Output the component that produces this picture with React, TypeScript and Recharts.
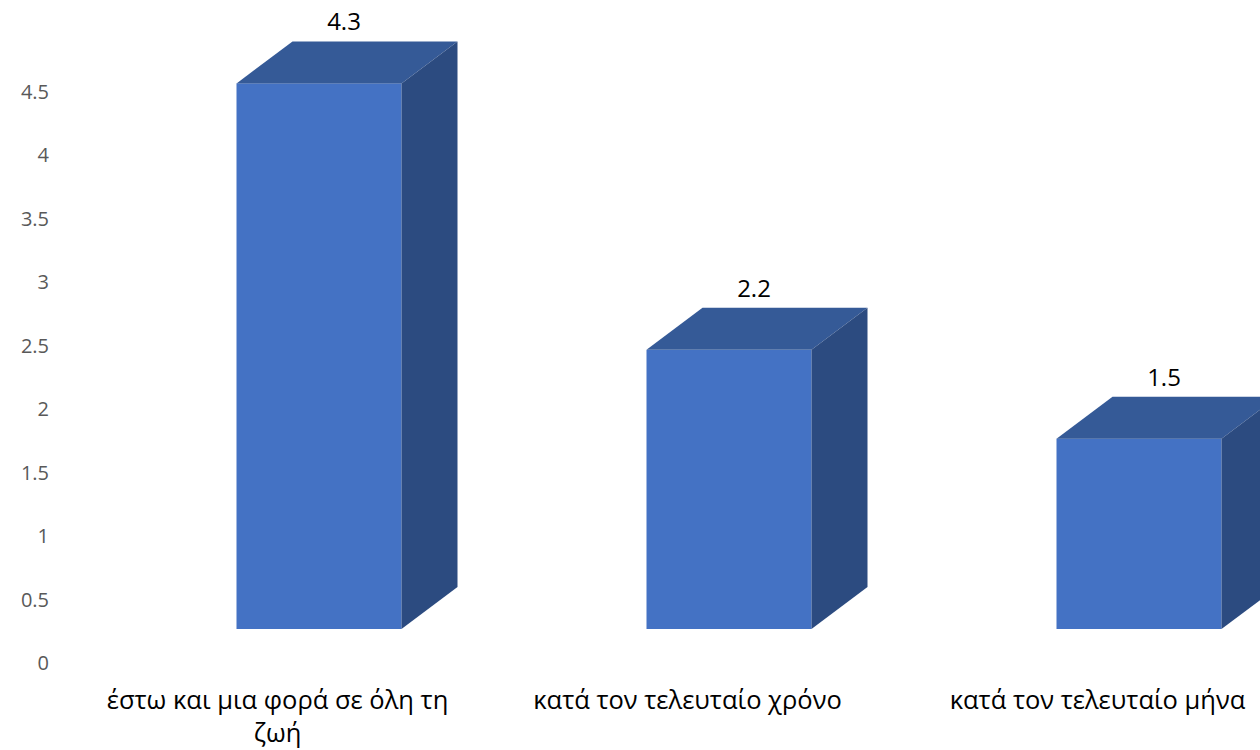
import { BarChart, Bar, XAxis, YAxis, LabelList } from 'recharts';

const categories = ['έστω και μια φορά σε όλη τη ζωή', 'κατά τον τελευταίο χρόνο', 'κατά τον τελευταίο μήνα'];
const values = [4.3, 2.2, 1.5];
const yTicks = [0, 0.5, 1, 1.5, 2, 2.5, 3, 3.5, 4, 4.5];

const data = categories.map((name, i) => ({ name, value: values[i] }));

const FRONT = '#4472C4';
const TOP = '#355A97';
const SIDE = '#2C4B80';
const DX = 56;
const DY = 42;
const LIFT = 34;
const FONT = '"Open Sans", "DejaVu Sans", sans-serif';

function Bar3D(props: any) {
  const { x, y, width, height } = props;
  const top = y - LIFT;
  const bottom = y + height - LIFT;
  return (
    <g>
      <rect x={x} y={top} width={width} height={height} fill={FRONT} />
      <polygon
        points={`${x},${top} ${x + DX},${top - DY} ${x + width + DX},${top - DY} ${x + width},${top}`}
        fill={TOP}
      />
      <polygon
        points={`${x + width},${top} ${x + width + DX},${top - DY} ${x + width + DX},${bottom - DY} ${x + width},${bottom}`}
        fill={SIDE}
      />
    </g>
  );
}

function ValueLabel(props: any) {
  const { x, y, width, value } = props;
  return (
    <text x={x + width / 2 + 25} y={y - LIFT - DY - 11} textAnchor="middle" fontFamily={FONT} fontSize={24} fill="#000">
      {value}
    </text>
  );
}

function wrap(text: string, max: number) {
  const words = text.split(' ');
  const lines: string[] = [];
  let cur = '';
  for (const w of words) {
    const next = cur ? cur + ' ' + w : w;
    if (next.length > max && cur) {
      lines.push(cur);
      cur = w;
    } else cur = next;
  }
  if (cur) lines.push(cur);
  return lines;
}

function CategoryTick({ x, y, payload }: any) {
  const lines = wrap(payload.value, 28);
  return (
    <text x={x - 41} y={y} textAnchor="middle" fontFamily={FONT} fontSize={25.5} fill="#000">
      {lines.map((l, i) => (
        <tspan key={i} x={x - 41} dy={i === 0 ? 46 : 33}>{l}</tspan>
      ))}
    </text>
  );
}

function ValueTick({ x, y, payload }: any) {
  return (
    <text x={x} y={y} dy={7} textAnchor="end" fontFamily={FONT} fontSize={20} fill="#595959">
      {payload.value}
    </text>
  );
}

export default function App() {
  return (
    <div style={{ position: 'fixed', left: 0, top: 0, width: 1260, height: 750, overflow: 'hidden', background: '#fff' }}>
      <BarChart width={1400} height={750} data={data} margin={{ top: 92, right: 56.5, bottom: 0, left: 0 }}>
        <XAxis dataKey="name" axisLine={false} tickLine={false} tickSize={0} tickMargin={0} height={87} tick={<CategoryTick />} interval={0} />
        <YAxis
          domain={[0, 4.5]}
          ticks={yTicks}
          width={113.5}
          axisLine={false}
          tickLine={false}
          tickSize={0}
          tickMargin={64.5}
          tick={<ValueTick />}
        />
        <Bar dataKey="value" barSize={165} shape={<Bar3D />} isAnimationActive={false}>
          <LabelList dataKey="value" content={<ValueLabel />} />
        </Bar>
      </BarChart>
    </div>
  );
}
